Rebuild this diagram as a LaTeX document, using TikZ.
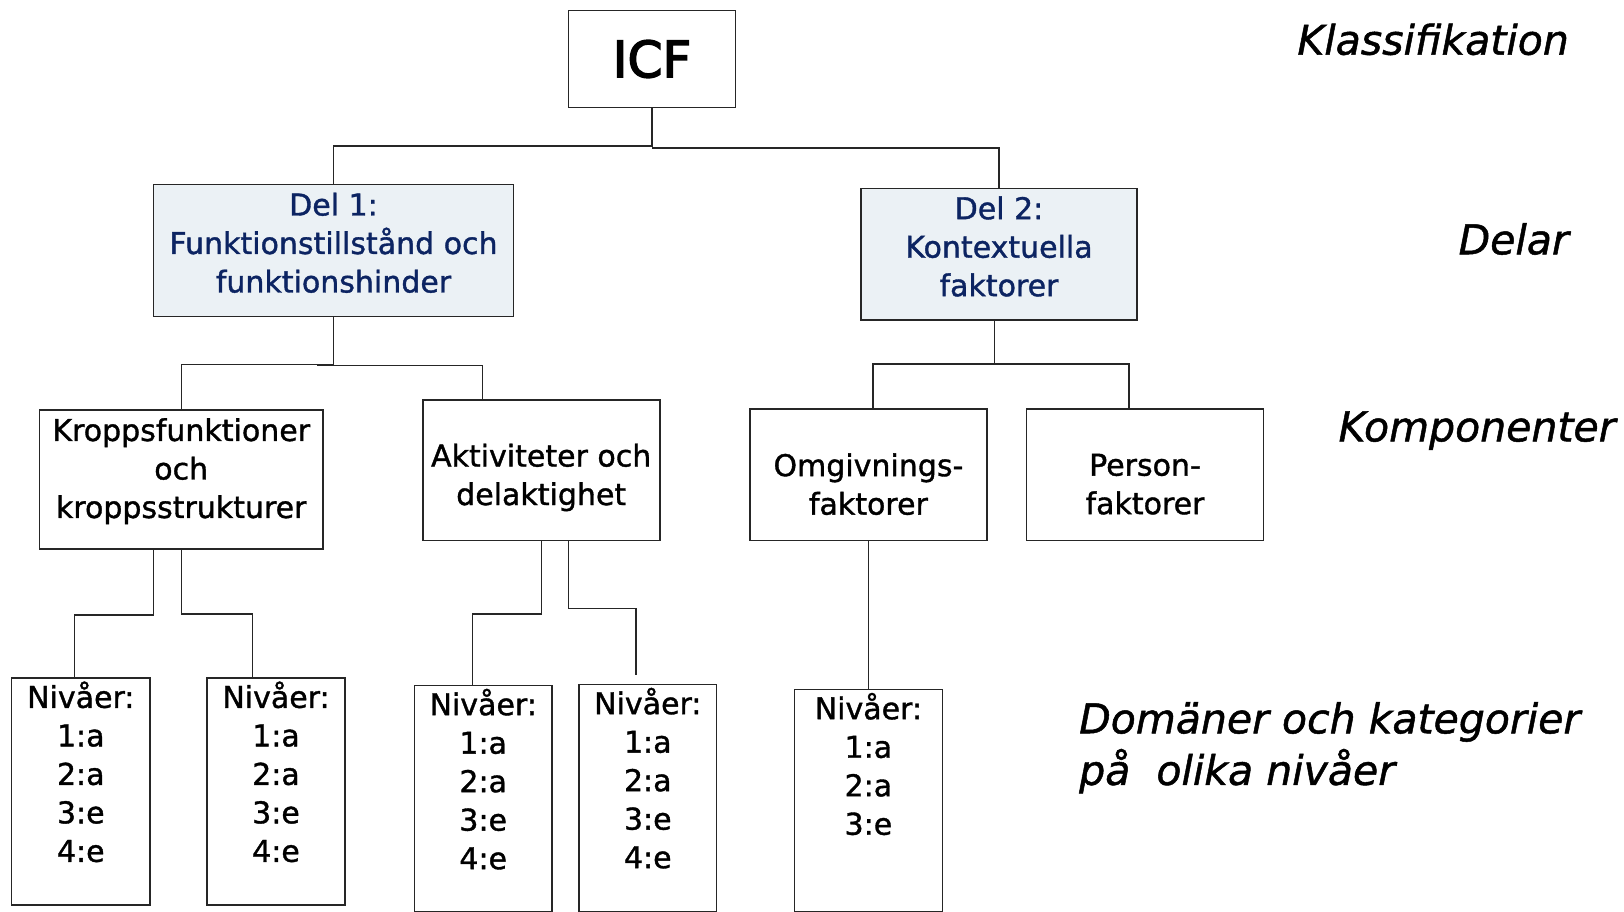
\documentclass[tikz,border=0pt]{standalone}
\usepackage{fontspec}
\setmainfont{DejaVu Sans}
\newfontfamily\boxfam{DejaVu Sans}[FakeBold=1.2]
\newfontfamily\tagfam{DejaVu Sans Oblique}[FakeBold=1.2]
\newfontfamily\icffam{DejaVu Sans}[FakeBold=3]
\usepackage{tikz}
\definecolor{partfill}{RGB}{235,241,245}
\definecolor{partblue}{RGB}{12,36,98}
\newcommand{\widthcomp}{237pt}
\newcommand{\heightcomp}{131.5pt}
\newcommand{\boxfont}{\boxfam\fontsize{30}{38.5}\selectfont}
\tikzset{
    common/.style={draw=black!85, line width=1.6pt, rectangle, inner sep=0pt},
    part/.style={common, fill=partfill, minimum height=132pt},
    comp/.style={common, minimum width=\widthcomp, minimum height=\heightcomp},
    level/.style={common, anchor=north},
    boxtext/.style={align=center, font=\boxfont, inner sep=0pt},
    parttext/.style={boxtext, text=partblue},
    leveltext/.style={boxtext, anchor=north, yshift=-4pt},
    tag/.style={font=\tagfam\fontsize{41}{51.6}\selectfont, inner sep=0pt},
    conn/.style={line width=1.3pt, black!85}
}

\begin{document}
\begin{tikzpicture}[x=1pt, y=-1pt]
    \useasboundingbox (0,0) rectangle (1624,912);

    \node[common, minimum width=167pt, minimum height=97pt, font=\icffam\fontsize{50}{60}\selectfont] (icf) at (652,59) {ICF};

    \node[part, minimum width=360pt] (del1) at (333.5,250.6) {};
    \node[part, minimum width=276.5pt, minimum height=131.5pt] (del2) at (999,254.3) {};
    \node[parttext, yshift=7.8pt] (del1t) at (del1) {Del 1:\\Funktionstillstånd och\\funktionshinder};
    \node[parttext, yshift=7.8pt] (del2t) at (del2) {Del 2:\\Kontextuella\\faktorer};

    \node[comp, minimum width=283.7pt, minimum height=138.8pt] (kropp) at (181.2,479.5) {};
    \node[comp, minimum height=140.8pt] (akt) at (541.2,470.2) {};
    \node[comp] (omg) at (868.4,474.9) {};
    \node[comp] (pers) at (1145,474.9) {};
    \node[boxtext, yshift=8.3pt] (kroppt) at (kropp) {Kroppsfunktioner\\och\\kroppsstrukturer};
    \node[boxtext, yshift=-7.3pt] (aktt) at (akt) {Aktiviteter och\\delaktighet};
    \node[boxtext, yshift=-9.3pt] (omgt) at (omg) {Omgivnings-\\faktorer};
    \node[boxtext, yshift=-9.3pt] (perst) at (pers) {Person-\\faktorer};

    \node[level, minimum width=138.8pt, minimum height=226.9pt] (lv1) at (80.8,677.3) {};
    \node[level, minimum width=137.8pt, minimum height=226.9pt] (lv2) at (276,677.3) {};
    \node[level, minimum width=137.7pt, minimum height=226pt] (lv3) at (483.2,684.6) {};
    \node[level, minimum width=137.7pt, minimum height=227pt] (lv4) at (647.8,683.6) {};
    \node[level, minimum width=148.1pt, minimum height=222pt] (lv5) at (868.4,688.7) {};
    \node[leveltext] (lv1t) at (lv1.north) {Nivåer:\\1:a\\2:a\\3:e\\4:e};
    \node[leveltext] (lv2t) at (lv2.north) {Nivåer:\\1:a\\2:a\\3:e\\4:e};
    \node[leveltext] (lv3t) at (lv3.north) {Nivåer:\\1:a\\2:a\\3:e\\4:e};
    \node[leveltext] (lv4t) at (lv4.north) {Nivåer:\\1:a\\2:a\\3:e\\4:e};
    \node[leveltext] (lv5t) at (lv5.north) {Nivåer:\\1:a\\2:a\\3:e};

    \node[tag, anchor=east] (klass) at (1569,39.4) {Klassifikation};
    \node[tag, anchor=east] (delar) at (1569,239) {Delar};
    \node[tag, anchor=east] (komp) at (1615.7,430.7) {Komponenter};
    \node[tag, anchor=west, align=left] (dom) at (1079,747.8) {Domäner och kategorier\\på\ \ olika nivåer};

    % tree lines
    \coordinate (top) at (652,146);
    \draw[conn] (icf.south) -- (top) -| (del1.north);
    \draw[conn] (top) ++(0,2) -| (del2.north);

    \draw[conn] (del1.south) -- ++(0,47) -| (kropp.north);
    \draw[conn] (del1.south) ++(-16.5,48) -| ([xshift=-58.6pt]akt.north);
    \draw[conn] ([xshift=-4.7pt]del2.south) -- ++(0,44.3);
    \draw[conn] ([xshift=4.7pt]omg.north) -- ++(0,-44.5) -| ([xshift=-16pt]pers.north);

    \draw[conn] ([xshift=-27.9pt]kropp.south) -- ++(0,65.3) -| ([xshift=-6.2pt]lv1.north);
    \draw[conn] (kropp.south) -- ++(0,64.2) -| ([xshift=-23.3pt]lv2.north);
    \draw[conn] (akt.south) -- ++(0,72.5) -| ([xshift=-10.9pt]lv3.north);
    \draw[conn] ([xshift=27.4pt]akt.south) -- ++(0,67.4) -| ([xshift=-11.9pt,yshift=8.3pt]lv4.north);
    \draw[conn] (omg.south) -- (lv5.north);
\end{tikzpicture}
\end{document}
